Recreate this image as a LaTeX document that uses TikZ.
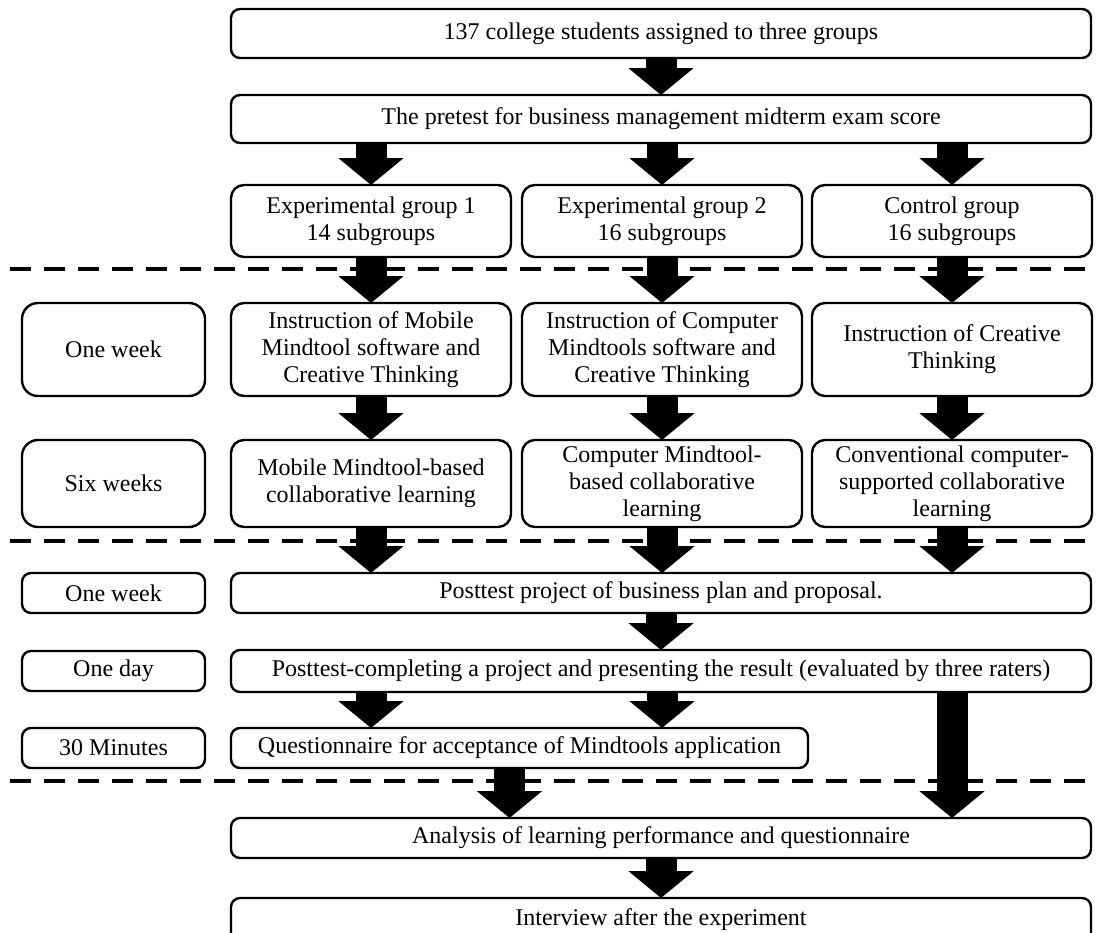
\documentclass[tikz,border=0pt]{standalone}
\usepackage{fontspec}
\setmainfont{Liberation Serif}
\usetikzlibrary{arrows.meta}

\begin{document}
\begin{tikzpicture}[x=1pt, y=-1pt,
  box/.style={draw, line width=2.4pt, rounded corners=9pt, inner sep=0pt, outer sep=0pt,
    align=center, font=\fontsize{24}{27}\selectfont},
  wide box/.style={box, minimum width=860pt},
  col box/.style={box, minimum width=280pt, rounded corners=13pt},
  time box/.style={box, minimum width=183pt},
  big arrow/.style={line width=31pt, -{Triangle[width=64pt,length=27pt]}},
  sep line/.style={line width=4pt, dash pattern=on 21pt off 13pt}]

\clip (0,0) rectangle (1099,932);

\begin{scope}
% top of the flow
\node[wide box, minimum height=49pt] (students) at (661,33.5) {137 college students assigned to three groups};
\node[wide box, minimum height=48pt] (pretest) at (661,119) {The pretest for business management midterm exam score};

\node[col box, minimum height=72pt] (exp1) at (371,221) {Experimental group 1\\14 subgroups};
\node[col box, minimum height=72pt] (exp2) at (662,221) {Experimental group 2\\16 subgroups};
\node[col box, minimum height=72pt] (ctrl) at (952,221) {Control group\\16 subgroups};

% treatment
\node[time box, minimum height=93pt, rounded corners=16pt] (week) at (113.5,349.5) {One week};
\node[col box, minimum height=93pt] (instr1) at (371,349.5) {Instruction of Mobile\\Mindtool software and\\Creative Thinking};
\node[col box, minimum height=93pt] (instr2) at (662,349.5) {Instruction of Computer\\Mindtools software and\\Creative Thinking};
\node[col box, minimum height=93pt] (instr3) at (952,349.5) {Instruction of Creative\\Thinking};

\node[time box, minimum height=87pt, rounded corners=16pt] (sixweeks) at (113.5,483.5) {Six weeks};
\node[col box, minimum height=87pt] (mobile) at (371,483.5) {Mobile Mindtool-based\\collaborative learning};
\node[col box, minimum height=87pt] (computer) at (662,483.5) {Computer Mindtool-\\based collaborative\\learning};
\node[col box, minimum height=87pt] (conv) at (952,483.5) {Conventional computer-\\supported collaborative\\learning};

% posttests
\node[time box, minimum height=40pt] (weekb) at (113.5,593) {One week};
\node[wide box, minimum height=40pt] (project) at (661,593) {Posttest project of business plan and proposal.};

\node[time box, minimum height=40pt] (day) at (113.5,671) {One day};
\node[wide box, minimum height=42pt] (present) at (661,671) {Posttest-completing a project and presenting the result (evaluated by three raters)};

\node[time box, minimum height=40pt] (minutes) at (113.5,748) {30 Minutes};
\node[box, minimum width=577pt, minimum height=40pt] (quest) at (519.5,748) {Questionnaire for acceptance of Mindtools application};

\node[wide box, minimum height=40pt] (analysis) at (661,838) {Analysis of learning performance and questionnaire};
\node[wide box, minimum height=44pt] (interview) at (661,920) {Interview after the experiment};
\end{scope}

% phase borders
\coordinate (d1) at (10,269);
\coordinate (d2) at (10,541);
\coordinate (d3) at (10,781);
\draw[sep line] (d1) -- (d1 -| students.east);
\draw[sep line] (d2) -- (d2 -| students.east);
\draw[sep line] (d3) -- (d3 -| students.east);

% arrows
\draw[big arrow] (students) -- (pretest);
\foreach \g/\i/\s in {exp1/instr1/mobile, exp2/instr2/computer, ctrl/instr3/conv} {
  \draw[big arrow] (\g |- pretest.south) -- (\g);
  \draw[big arrow] (\g) -- (\i);
  \draw[big arrow] (\i) -- (\s);
  \draw[big arrow] (\s) -- (\s |- project.north);
}
\draw[big arrow] (project) -- (present);
\draw[big arrow] (present.south -| mobile) -- (quest.north -| mobile);
\draw[big arrow] (present.south -| computer) -- (quest.north -| computer);
\draw[big arrow] (present.south -| conv) -- (analysis.north -| conv);
\draw[big arrow] ([xshift=-10pt]quest.south) -- ([xshift=-10pt]quest.south |- analysis.north);
\draw[big arrow] (analysis) -- (interview);

\end{tikzpicture}
\end{document}
